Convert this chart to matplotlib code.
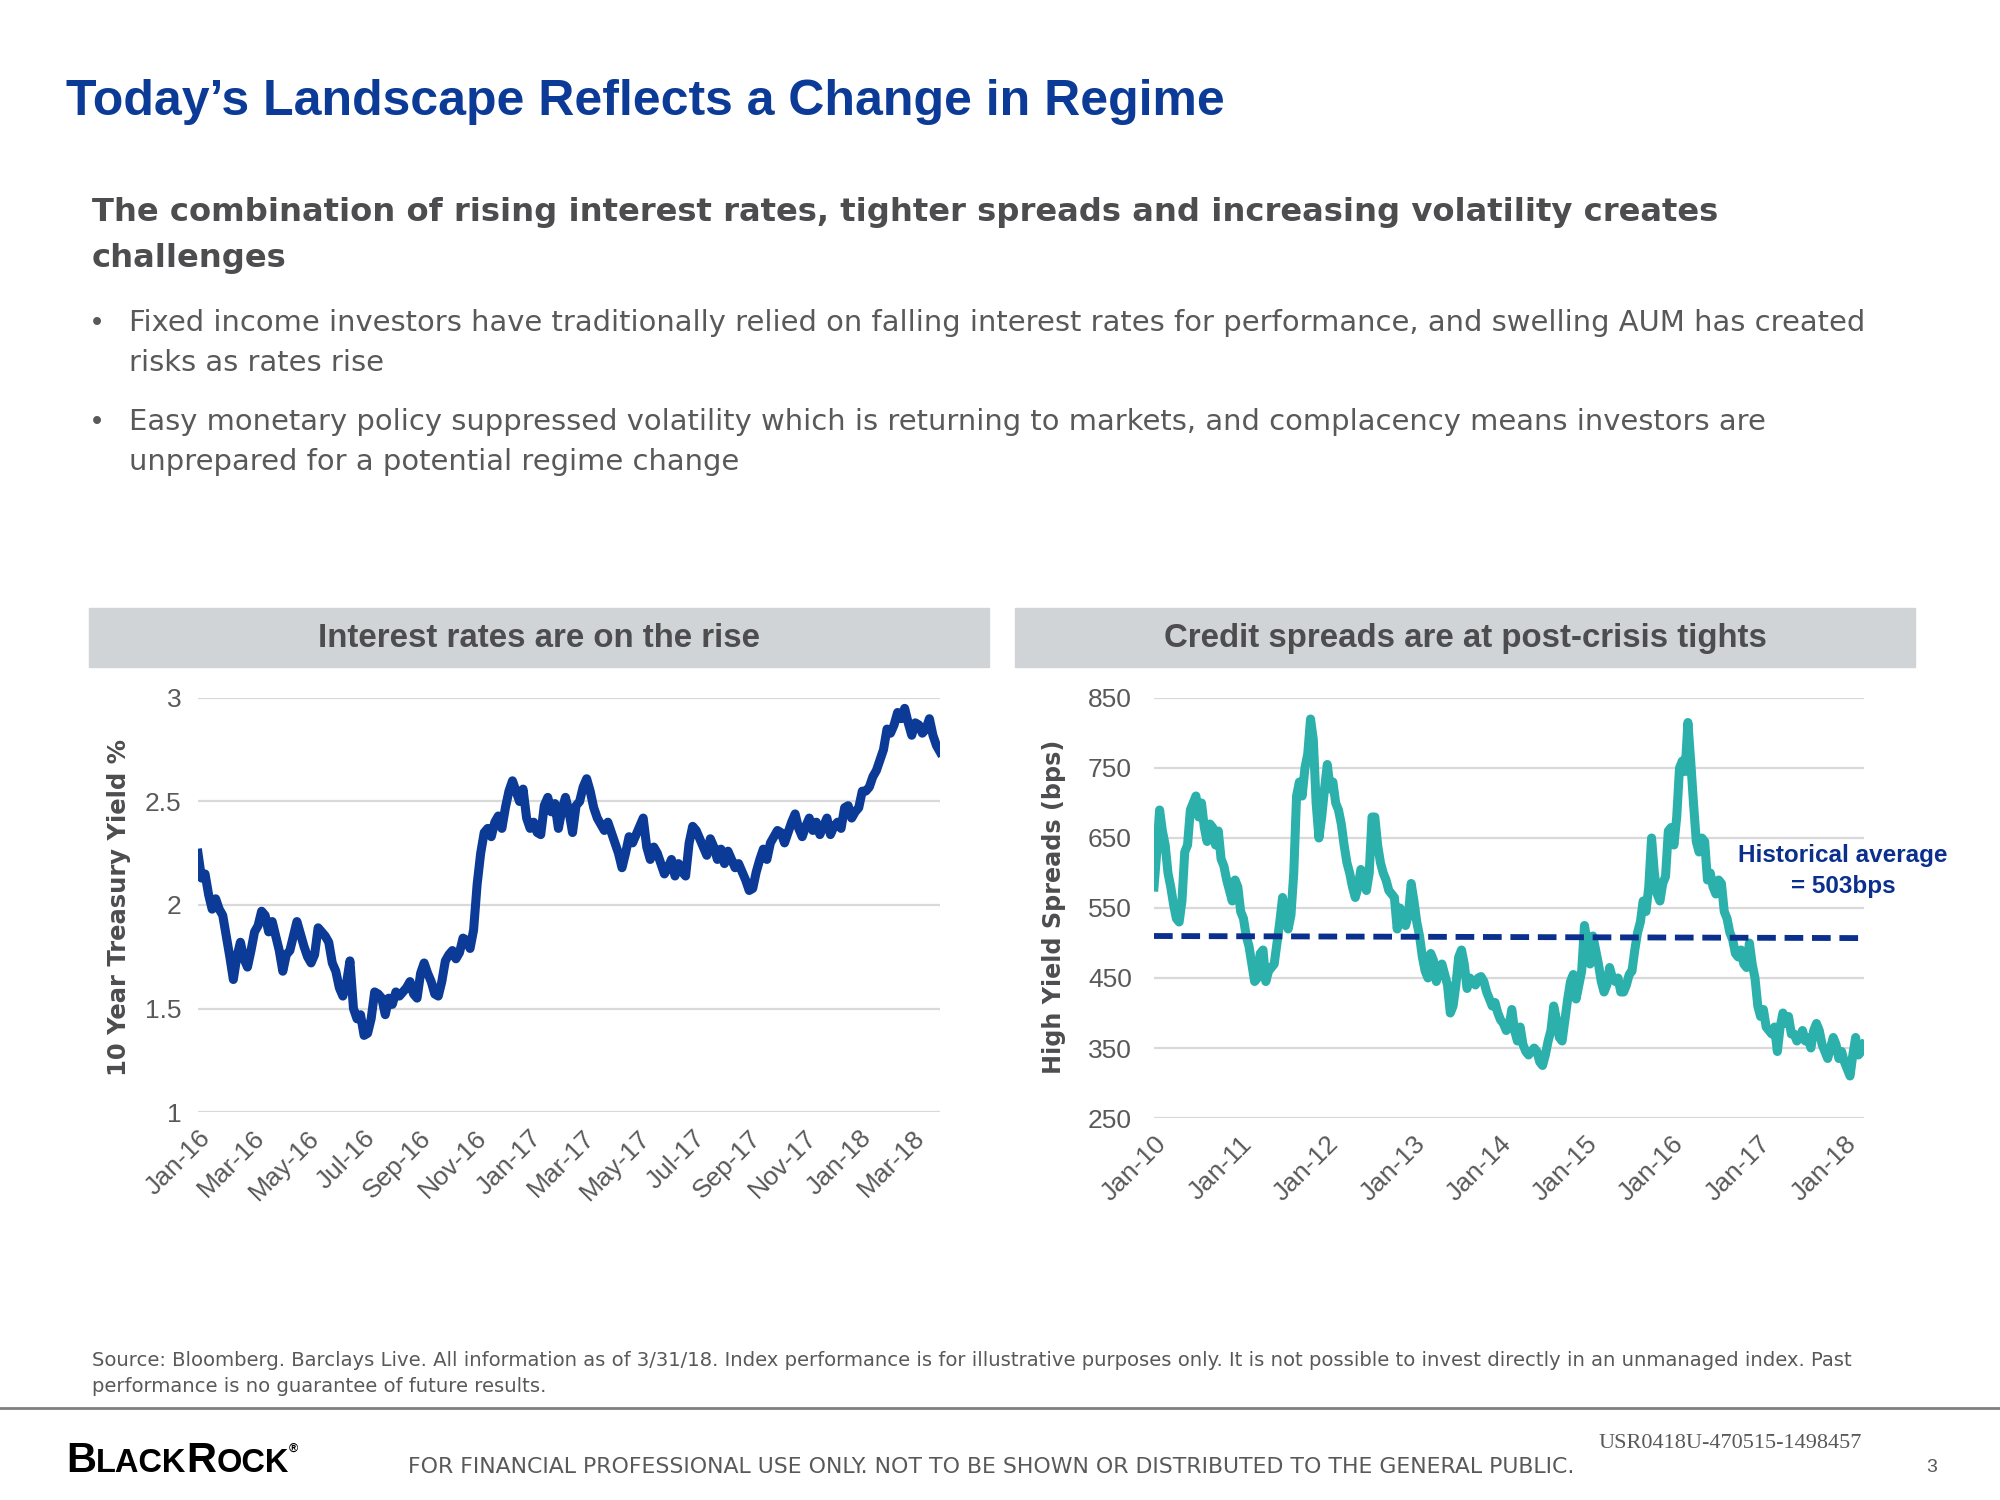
import matplotlib
matplotlib.use('Agg')
import matplotlib.pyplot as plt
import pandas as pd

# 10 year treasury yield, Jan-16 .. Mar-18
ust_start, ust_end = '2016-01-01', '2018-03-31'
ust_yield = [
    2.25, 2.13, 2.15, 2.05, 1.98, 2.03, 1.98, 1.95, 1.85, 1.75, 1.64, 1.75, 1.82, 1.74, 1.70,
    1.78, 1.87, 1.90, 1.97, 1.95, 1.87, 1.92, 1.85, 1.78, 1.68, 1.76, 1.78, 1.85, 1.92, 1.86,
    1.80, 1.75, 1.72, 1.76, 1.89, 1.87, 1.85, 1.82, 1.72, 1.68, 1.60, 1.56, 1.62, 1.73, 1.50,
    1.45, 1.47, 1.37, 1.38, 1.45, 1.58, 1.57, 1.55, 1.47, 1.55, 1.52, 1.58, 1.56, 1.58, 1.60,
    1.63, 1.57, 1.55, 1.67, 1.72, 1.67, 1.63, 1.57, 1.56, 1.63, 1.73, 1.76, 1.78, 1.74, 1.77,
    1.84, 1.83, 1.79, 1.88, 2.10, 2.25, 2.35, 2.37, 2.33, 2.40, 2.43, 2.37, 2.47, 2.55, 2.60,
    2.55, 2.50, 2.56, 2.42, 2.37, 2.40, 2.35, 2.34, 2.48, 2.52, 2.45, 2.49, 2.37, 2.46, 2.52,
    2.45, 2.35, 2.48, 2.50, 2.57, 2.61, 2.55, 2.47, 2.42, 2.39, 2.36, 2.40, 2.35, 2.30, 2.25,
    2.18, 2.25, 2.33, 2.30, 2.34, 2.38, 2.42, 2.28, 2.22, 2.28, 2.25, 2.20, 2.15, 2.18, 2.22,
    2.14, 2.20, 2.16, 2.14, 2.30, 2.38, 2.36, 2.32, 2.28, 2.24, 2.32, 2.28, 2.22, 2.27, 2.20,
    2.26, 2.22, 2.18, 2.20, 2.16, 2.12, 2.07, 2.08, 2.16, 2.22, 2.27, 2.22, 2.30, 2.33, 2.36,
    2.35, 2.30, 2.35, 2.40, 2.44, 2.37, 2.33, 2.38, 2.42, 2.36, 2.40, 2.34, 2.38, 2.42, 2.34,
    2.38, 2.40, 2.37, 2.47, 2.48, 2.42, 2.45, 2.47, 2.55, 2.55, 2.57, 2.62, 2.65, 2.70, 2.75,
    2.85, 2.83, 2.87, 2.93, 2.90, 2.95, 2.88, 2.82, 2.88, 2.87, 2.83, 2.85, 2.90, 2.82, 2.77,
    2.74,
]

# high yield spreads (bps), Jan-10 .. Mar-18
hy_start, hy_end = '2010-01-01', '2018-03-25'
hy_spread = [
    580, 630, 690, 660, 640, 600, 580, 555, 535, 530, 560, 630, 640, 690, 700, 710, 680, 700,
    665, 645, 670, 665, 640, 660, 620, 610, 590, 575, 560, 590, 580, 545, 535, 510, 495, 470,
    445, 450, 485, 490, 445, 460, 465, 470, 500, 530, 565, 540, 520, 540, 600, 710, 730, 710,
    750, 770, 820, 790, 700, 650, 680, 720, 755, 720, 730, 700, 690, 670, 640, 615, 600, 580,
    565, 580, 605, 600, 575, 600, 680, 680, 640, 615, 600, 590, 575, 570, 565, 520, 550, 540,
    525, 540, 585, 560, 530, 510, 480, 460, 450, 485, 475, 445, 460, 470, 455, 440, 400, 410,
    440, 480, 490, 470, 435, 450, 445, 440, 450, 452, 445, 430, 420, 410, 415, 400, 390, 385,
    375, 380, 405, 375, 360, 380, 355, 345, 340, 345, 350, 345, 330, 325, 340, 360, 375, 410,
    390, 365, 360, 390, 420, 445, 455, 420, 440, 460, 525, 500, 470, 510, 490, 470, 445, 430,
    440, 465, 450, 445, 450, 430, 430, 440, 455, 460, 490, 515, 530, 560, 545, 580, 650, 600,
    570, 560, 585, 595, 660, 665, 640, 680, 750, 760, 745, 815, 760, 700, 645, 630, 650, 645,
    590, 600, 580, 570, 590, 585, 545, 535, 515, 505, 485, 480, 490, 470, 465, 500, 470, 450,
    410, 395, 405, 380, 375, 370, 380, 345, 380, 400, 385, 395, 370, 370, 360, 365, 375, 360,
    365, 350, 375, 385, 375, 355, 345, 335, 350, 365, 355, 335, 345, 330, 320, 310, 340, 365,
    340, 345, 355,
]
hy_avg_line = [510, 507]

ust_ticks = pd.date_range('2016-01-01', '2018-03-01', freq='2MS')
hy_ticks = pd.date_range('2010-01-01', '2018-01-01', freq='YS')

BLUE = '#0B3A97'
NAVY = '#0A2F8C'
TEAL = '#2BB0AB'
GREY_TXT = '#4D4D4F'
BODY = '#595959'
SANS = 'Liberation Sans'
WIDE = 'DejaVu Sans'   # stands in for the letter-spaced Arial of the slide

fig = plt.figure(figsize=(20, 15), dpi=100)
W, H = 2000.0, 1500.0


def put(x, y, s, **kw):
    # x, y in pixels from the top-left corner
    return fig.text(x / W, 1 - y / H, s, **kw)


# ---- header text ----
put(66, 102, 'Today\u2019s Landscape Reflects a Change in Regime', fontsize=36,
    fontweight='bold', color=BLUE, family=SANS, va='center')
put(92, 212, 'The combination of rising interest rates, tighter spreads and increasing volatility creates',
    fontsize=23.2, fontweight='bold', color=GREY_TXT, family=WIDE, va='center')
put(92, 259, 'challenges', fontsize=23.2, fontweight='bold', color=GREY_TXT, family=WIDE, va='center')

bullets = [
    ['Fixed income investors have traditionally relied on falling interest rates for performance, and swelling AUM has created',
     'risks as rates rise'],
    ['Easy monetary policy suppressed volatility which is returning to markets, and complacency means investors are',
     'unprepared for a potential regime change'],
]
for i, lines in enumerate(bullets):
    y0 = 323 + i * 99
    put(92, y0, '\u2022', fontsize=21, color=BODY, family=SANS, va='center')
    for j, ln in enumerate(lines):
        put(129, y0 + j * 40, ln, fontsize=20.9, color=BODY, family=WIDE, va='center')

# ---- panel headers ----
for x0, x1, title in [(89, 989, 'Interest rates are on the rise'),
                      (1015, 1915, 'Credit spreads are at post-crisis tights')]:
    fig.patches.append(plt.Rectangle((x0 / W, 1 - 667 / H), (x1 - x0) / W, 59 / H,
                                     transform=fig.transFigure, color='#D1D4D7', zorder=0))
    put((x0 + x1) / 2, 639, title, fontsize=23.8, fontweight='bold', color=GREY_TXT,
        family=SANS, ha='center', va='center')


def style_axes(ax):
    for sp in ax.spines.values():
        sp.set_visible(False)
    ax.grid(axis='y', color='#D9D9D9', lw=1.6)
    ax.set_axisbelow(True)
    ax.tick_params(length=0, labelsize=19, labelcolor=BODY, pad=10)
    for lab in ax.get_xticklabels() + ax.get_yticklabels():
        lab.set_family(SANS)


# ---- left chart ----
ax1 = fig.add_axes([198 / W, 1 - 1112 / H, 742 / W, 414 / H])
ust_dates = pd.date_range(ust_start, ust_end, periods=len(ust_yield))
ax1.plot(ust_dates, ust_yield, color=BLUE, lw=6.5, solid_joinstyle='round')
ax1.set_ylim(1, 3)
ax1.set_yticks([1, 1.5, 2, 2.5, 3])
ax1.set_yticklabels(['1', '1.5', '2', '2.5', '3'])
ax1.set_xlim(pd.Timestamp(ust_start), pd.Timestamp(ust_end))
ax1.set_xticks(ust_ticks)
ax1.set_xticklabels([d.strftime('%b-%y') for d in ust_ticks], rotation=45, ha='right',
                    rotation_mode='anchor')
style_axes(ax1)
ax1.tick_params(axis='y', pad=12)
put(119, 907, '10 Year Treasury Yield %', fontsize=17.5, fontweight='bold', color=GREY_TXT,
    family=WIDE, rotation=90, ha='center', va='center')

# ---- right chart ----
ax2 = fig.add_axes([1154 / W, 1 - 1118 / H, 710 / W, 420 / H])
hy_dates = pd.date_range(hy_start, hy_end, periods=len(hy_spread))
ax2.plot(hy_dates, hy_spread, color=TEAL, lw=6.5, solid_joinstyle='round')
ax2.plot([hy_dates[0], hy_dates[-1]], hy_avg_line, color=NAVY, lw=4.2, ls=(0, (3.2, 1.5)))
ax2.set_ylim(250, 850)
ax2.set_yticks(range(250, 851, 100))
ax2.set_xlim(pd.Timestamp(hy_start), pd.Timestamp(hy_end))
ax2.set_xticks(hy_ticks)
ax2.set_xticklabels([d.strftime('%b-%y') for d in hy_ticks], rotation=45, ha='right',
                    rotation_mode='anchor')
style_axes(ax2)
ax2.tick_params(axis='y', pad=16)
put(1054, 907, 'High Yield Spreads (bps)', fontsize=17.2, fontweight='bold', color=GREY_TXT,
    family=WIDE, rotation=90, ha='center', va='center')
put(1843, 871, 'Historical average\n= 503bps', fontsize=17.5, fontweight='bold', color=NAVY,
    family=SANS, ha='center', va='center', linespacing=1.45)

# ---- footer ----
put(92, 1361, 'Source: Bloomberg. Barclays Live. All information as of 3/31/18. Index performance is for '
    'illustrative purposes only. It is not possible to invest directly in an unmanaged index. Past',
    fontsize=14.1, color=BODY, family=WIDE, va='center')
put(92, 1386, 'performance is no guarantee of future results.', fontsize=14.1, color=BODY,
    family=WIDE, va='center')
fig.add_artist(plt.Line2D([0, 1], [1 - 1408 / H] * 2, color='#808080', lw=2,
                          transform=fig.transFigure))
put(408, 1467, 'FOR FINANCIAL PROFESSIONAL USE ONLY. NOT TO BE SHOWN OR DISTRIBUTED TO THE GENERAL PUBLIC.',
    fontsize=15.8, color=BODY, family=WIDE, va='center')
put(1862, 1443, 'USR0418U-470515-1498457', fontsize=16, color=BODY, family='Liberation Serif',
    ha='right', va='center')
put(1932, 1467, '3', fontsize=14, color=BODY, family=SANS, ha='center', va='center')

# BlackRock logo as text in faux small caps
renderer = fig.canvas.get_renderer()
x = 66
for piece, size in [('B', 30), ('LACK', 23.5), ('R', 30), ('OCK', 23.5), ('\u00ae', 9)]:
    t = put(x, 1472, piece, fontsize=size, fontweight='bold', color='black', family=SANS,
            va='baseline')
    x += t.get_window_extent(renderer).width
    if piece == '\u00ae':
        t.set_y(1 - 1452 / H)

fig.savefig('out.png', dpi=100)
